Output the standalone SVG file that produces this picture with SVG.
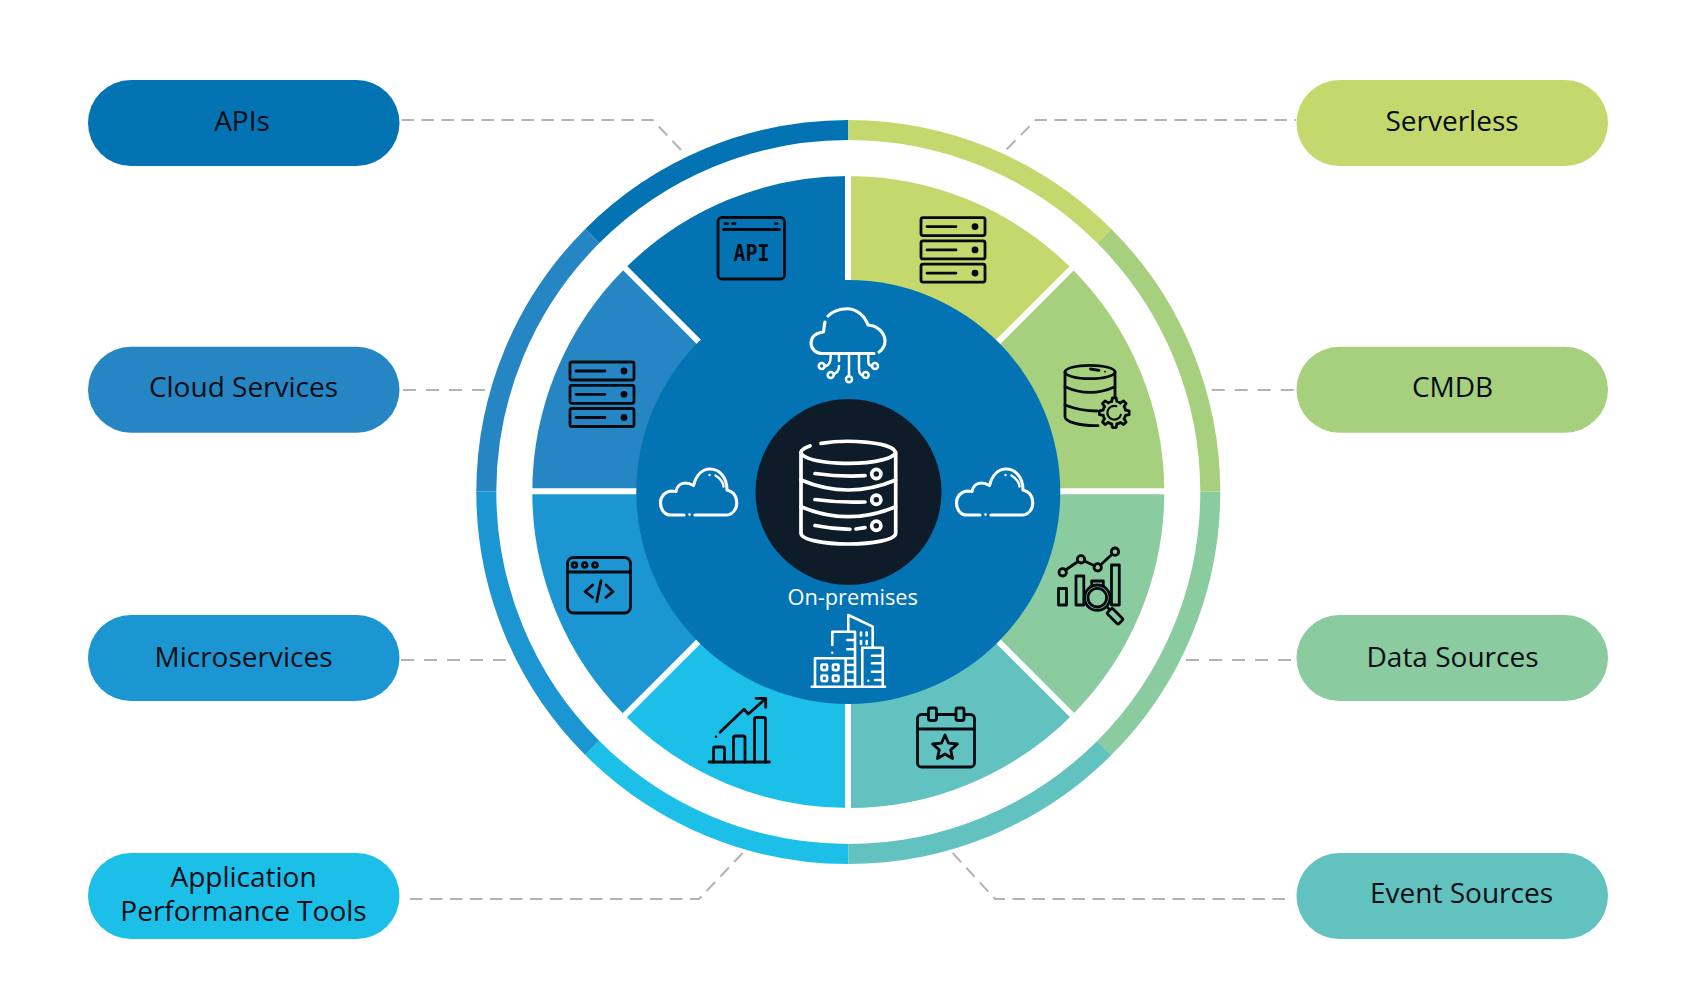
<svg xmlns="http://www.w3.org/2000/svg" xmlns:xlink="http://www.w3.org/1999/xlink" width="1681" height="1000" viewBox="0 0 1681 1000">
<style>
text{font-family:"Open Sans","Liberation Sans",sans-serif}
.lbl{font-size:28px;fill:#060d14;text-anchor:middle}
.conn{fill:none;stroke:#b3b3b3;stroke-width:2;stroke-dasharray:12.5 7.5}
.short{stroke-dasharray:13 10}
.ring{fill:none;stroke-width:20}
.div{stroke:#fff;stroke-width:6}
.k{fill:none;stroke:#050a10;stroke-width:2.8;stroke-linecap:round;stroke-linejoin:round}
.w{fill:none;stroke:#fff;stroke-width:3.1;stroke-linecap:round;stroke-linejoin:round}
.kf{fill:#050a10}
.wf{fill:#fff}
</style>
<defs>
<g id="server" class="k">
<rect x="570" y="362" width="64" height="18" rx="2"/><rect x="570" y="385.3" width="64" height="18" rx="2"/><rect x="570" y="408.5" width="64" height="18" rx="2"/>
<path d="M576 371H605M576 394.3H605M576 417.5H605"/>
<circle cx="624" cy="371" r="3.4" class="kf" stroke="none"/><circle cx="624" cy="394.3" r="3.4" class="kf" stroke="none"/><circle cx="624" cy="417.5" r="3.4" class="kf" stroke="none"/>
</g>
<g id="cloud" class="w">
<path d="M684 515H671C664.5 515 660.5 509.5 660.5 502.7C660.5 496 665.5 491 672 491L676 491.5C677 486 681 483 685 483C688 483 691 484 693.5 485.5C696 475.5 702 469 710 469C720 469 727 478 727 490C733 491.5 736.8 496 736.8 502.5C736.8 509.5 732.5 515 726 515H695"/>
<path d="M715.5 475.5C719.5 478 723 482 723.5 486.5" stroke-width="2.4"/>
<circle cx="709.5" cy="475" r="1.2" class="wf" stroke="none"/><circle cx="689.5" cy="514.5" r="1.3" class="wf" stroke="none"/>
</g>
<path id="tooth" d="M11.2-2.59L14.89-1.83V1.83L11.2 2.59A11.5 11.5 0 0 1 9.75 6.09"/>
</defs>
<rect width="1681" height="1000" fill="#fff"/>

<g id="connectors" class="conn">
<path d="M681 150L652.6 120H401"/>
<path class="short" d="M403 390H485"/>
<path class="short" d="M401 660H507"/>
<path d="M742.7 853L699 899H406"/>
<path d="M1006.7 149.3L1035.7 120H1296"/>
<path class="short" d="M1211.7 390H1296"/>
<path class="short" d="M1186 660H1293"/>
<path d="M952.7 853L995 899H1290"/>
</g>

<g id="ring">
<path class="ring" stroke="#0373b4" d="M848.3 130A362 362 0 0 0 592.3 236"/>
<path class="ring" stroke="#2686c4" d="M592.3 236A362 362 0 0 0 486.3 491.5"/>
<path class="ring" stroke="#1b96d2" d="M486.3 491.5A362 362 0 0 0 592.3 748"/>
<path class="ring" stroke="#1cbfe8" d="M592.3 748A362 362 0 0 0 848.3 854"/>
<path class="ring" stroke="#61c2c0" d="M848.3 854A362 362 0 0 0 1104.3 748"/>
<path class="ring" stroke="#8bcba0" d="M1104.3 748A362 362 0 0 0 1210.3 491.5"/>
<path class="ring" stroke="#a6d07d" d="M1210.3 491.5A362 362 0 0 0 1104.3 236"/>
<path class="ring" stroke="#c4d86e" d="M1104.3 236A362 362 0 0 0 848.3 130"/>
</g>

<g id="wedges">
<path fill="#0373b4" d="M848.3 492V176A316 316 0 0 0 624.9 268.6Z"/>
<path fill="#2686c4" d="M848.3 492L624.9 268.6A316 316 0 0 0 532.3 492Z"/>
<path fill="#1b96d2" d="M848.3 492H532.3A316 316 0 0 0 624.9 715.4Z"/>
<path fill="#1cbfe8" d="M848.3 492L624.9 715.4A316 316 0 0 0 848.3 808Z"/>
<path fill="#61c2c0" d="M848.3 492V808A316 316 0 0 0 1071.7 715.4Z"/>
<path fill="#8bcba0" d="M848.3 492L1071.7 715.4A316 316 0 0 0 1164.3 492Z"/>
<path fill="#a6d07d" d="M848.3 492H1164.3A316 316 0 0 0 1071.7 268.6Z"/>
<path fill="#c4d86e" d="M848.3 492L1071.7 268.6A316 316 0 0 0 848.3 176Z"/>
<path class="div" d="M848 170V814M526 491.3H1170M622 265L1075 718M622 718L1075 265"/>
</g>

<g id="hub">
<circle cx="848.3" cy="492" r="212" fill="#0373b4"/>
<circle cx="848.5" cy="492" r="93" fill="#0e1b28"/>
<g class="w" style="stroke-width:3.7">
<path d="M821 443.35A47 11 0 1 1 810 445.9"/>
<path d="M801 452.3V533.3C801 540 825 544 848.3 544C872 544 895.7 540 895.7 533.3V452.3"/>
<path d="M801 480Q848.3 500 895.7 480M801 506.7Q848.3 526.7 895.7 506.7"/>
<path d="M815 473.5Q840 477 865 475.7M815 499.5Q840 503 865 502M815 525.5Q832 529 850 529.3M856 529L865 527.7"/>
<circle cx="876.3" cy="474" r="4.6"/><circle cx="876.3" cy="499.7" r="4.6"/><circle cx="876.3" cy="525.7" r="4.6"/>
</g>
<text x="852.7" y="604.7" font-size="21.8" fill="#fff" text-anchor="middle">On-premises</text>
</g>

<g id="icon-cloud-circuit" class="w">
<path d="M828 316C833 311 840 308.7 847 308.7C856.5 308.7 864.5 315.5 868 325C877 325.5 885 332.5 885 341C885 345.5 882.5 349.5 879 352"/>
<path d="M825 322C824 325.5 824 329 823.5 332C816 332.5 811 337 811 343C811 349 816 353.5 822 353.5H874"/>
<g style="stroke-width:2.5">
<circle cx="821.7" cy="366" r="3"/><circle cx="830.7" cy="375" r="3"/><circle cx="849" cy="379.3" r="3"/><circle cx="865.7" cy="375" r="3"/><circle cx="875" cy="366" r="3"/>
<path d="M824.7 366Q830.7 366 830.7 356M834 374Q839 372 839 366M839 356V361M849 356V376M859 356V368Q859 375 862.7 375M868.3 356V361Q868.3 366 872 366"/>
</g>
</g>
<use id="icon-cloud-left" xlink:href="#cloud" href="#cloud"/>
<use id="icon-cloud-right" xlink:href="#cloud" href="#cloud" transform="translate(296 0)"/>

<g id="icon-building" class="w" style="stroke-width:2.6">
<path d="M811.7 686.7H885"/>
<path d="M815 686.7V658.3H845.7V686.7"/>
<rect x="821.5" y="664.5" width="5.6" height="5.6" rx="1"/><rect x="832.9" y="664.5" width="5.6" height="5.6" rx="1"/><rect x="821.5" y="675.5" width="5.6" height="5.6" rx="1"/><rect x="832.9" y="675.5" width="5.6" height="5.6" rx="1"/>
<path d="M832.3 645V631.7H855V686.7M855 640H847.3M855 649.3H847.3M855 658.3H847.3M855 665H847.3M855 672H847.3M855 680.5H847.3"/>
<path d="M848.3 631.7V615L872.7 626.7V647"/>
<path d="M861 632.5V635.5M866.7 632.5V635.5M861 641V644M866.7 641V644"/>
<path d="M862.3 686.7V647.7H882.7V686.7M882.7 655.7H872M882.7 663.3H872M882.7 671.7H872M882.7 680H875"/>
<circle cx="832.3" cy="652.7" r="1.2" class="wf" stroke="none"/><circle cx="868.3" cy="680.7" r="1.2" class="wf" stroke="none"/>
</g>

<g id="icon-api" class="k">
<rect x="718" y="217.5" width="66.5" height="61.5" rx="4"/>
<path d="M723.5 229.5H779.5"/>
<path d="M725 223.7H727.5M732.5 223.7H735M775.5 223.7H777"/>
<text x="751.5" y="261.3" text-anchor="middle" font-size="23" font-weight="700" fill="#050a10" stroke="none" style="font-family:'DejaVu Sans Mono',monospace" textLength="36" lengthAdjust="spacingAndGlyphs">API</text>
</g>
<use id="icon-server-left" xlink:href="#server" href="#server"/>
<use id="icon-server-right" xlink:href="#server" href="#server" transform="translate(351 -144.4)"/>

<g id="icon-code" class="k">
<rect x="567.5" y="557.5" width="63" height="55.5" rx="6"/>
<path d="M568 572H630"/>
<circle cx="574.5" cy="565" r="2.4"/><circle cx="584.7" cy="565" r="2.4"/><circle cx="595" cy="565" r="2.4"/>
<path d="M592.7 585L585 591.7L592.7 597.3M606 585L613 591.7L606 597.3M601 580.7L596.7 601.7"/>
</g>

<g id="icon-growth" class="k">
<path d="M709 762H769.5"/>
<path d="M713.5 762V749Q713.5 747 715.5 747H722.5Q724.5 747 724.5 749V762M733.5 762V738Q733.5 736 735.5 736H743Q745 736 745 738V762M754.5 762V719Q754.5 717.5 756.5 717.5H763.5Q765.5 717.5 765.5 719V762"/>
<path d="M720 732.3L744 709.3L748.3 714L765 699.3M756 698.3H765.7V707.3"/>
<circle cx="716" cy="736.7" r="1.2" class="kf" stroke="none"/>
</g>

<g id="icon-calendar" class="k">
<rect x="917.5" y="714.5" width="57" height="52.5" rx="4"/>
<path d="M918 729H974"/>
<rect x="928.5" y="708" width="8" height="12.5" rx="2" fill="#61c2c0"/>
<rect x="956" y="708" width="8" height="12.5" rx="2" fill="#61c2c0"/>
<path d="M945 735L948.5 743.1L957.4 744L950.7 749.9L952.6 758.5L945 754L937.4 758.5L939.3 749.9L932.6 744L941.5 743.1Z"/>
</g>

<g id="icon-data" class="k">
<path d="M1065.5 570L1078 561.5M1084.3 561L1094.5 565.7M1100.5 565L1112 554.2"/>
<circle cx="1062.7" cy="572.3" r="3.7"/><circle cx="1081" cy="559.3" r="3.7"/><circle cx="1097.7" cy="567.3" r="3.7"/><circle cx="1115" cy="551.7" r="3.7"/>
<rect x="1058.5" y="588.5" width="8" height="16.5"/>
<rect x="1076" y="576" width="7.8" height="29"/>
<rect x="1111.5" y="565" width="7.8" height="40"/>
<rect x="1091.7" y="581" width="11.6" height="6" fill="#8bcba0"/>
<circle cx="1097.3" cy="597.7" r="12.7" fill="#8bcba0"/>
<circle cx="1097.3" cy="597.7" r="9.3"/>
<path d="M1107 607L1110 610"/>
<rect x="1107" y="612.5" width="16" height="7.5" rx="1.5" transform="rotate(45 1115 616.3)" fill="#8bcba0"/>
</g>

<g id="icon-db-gear" class="k">
<ellipse cx="1090" cy="372" rx="25" ry="6.7"/>
<path d="M1065 372V416.5C1065 422 1080 425.7 1095 425.7H1098"/>
<path d="M1115 372V397"/>
<path d="M1065 386.7Q1090 398 1115 386.7M1065 405Q1080 411 1097 411"/>
<path d="M1090.5 369L1099 370.3"/>
<circle cx="1105" cy="371.7" r="0.9" class="kf" stroke="none"/>
<g transform="translate(1114.3 412.7)">
<use xlink:href="#tooth" href="#tooth"/>
<use xlink:href="#tooth" href="#tooth" transform="rotate(45)"/>
<use xlink:href="#tooth" href="#tooth" transform="rotate(90)"/>
<use xlink:href="#tooth" href="#tooth" transform="rotate(135)"/>
<use xlink:href="#tooth" href="#tooth" transform="rotate(180)"/>
<use xlink:href="#tooth" href="#tooth" transform="rotate(225)"/>
<use xlink:href="#tooth" href="#tooth" transform="rotate(270)"/>
<use xlink:href="#tooth" href="#tooth" transform="rotate(315)"/>
<path d="M2-6.6A6.9 6.9 0 1 0 6.6 2" style="stroke-width:2.2"/>
</g>
</g>

<g id="node-apis"><rect x="88" y="80" width="311.5" height="86" rx="43" fill="#0373b4"/><text class="lbl" x="242" y="130.5">APIs</text></g>
<g id="node-cloud-services"><rect x="88" y="346.7" width="311.5" height="86" rx="43" fill="#2686c4"/><text class="lbl" x="243.5" y="397">Cloud Services</text></g>
<g id="node-microservices"><rect x="88" y="615" width="311.5" height="86" rx="43" fill="#1b96d2"/><text class="lbl" x="243.5" y="666.7">Microservices</text></g>
<g id="node-apm"><rect x="88" y="853" width="311.5" height="86" rx="43" fill="#1cbfe8"/><text class="lbl" x="243.5" y="887">Application</text><text class="lbl" x="243.5" y="920.7">Performance Tools</text></g>
<g id="node-serverless"><rect x="1296.5" y="80" width="311.5" height="86" rx="43" fill="#c4d86e"/><text class="lbl" x="1452" y="130.5">Serverless</text></g>
<g id="node-cmdb"><rect x="1296.5" y="346.7" width="311.5" height="86" rx="43" fill="#a6d07d"/><text class="lbl" x="1452.5" y="397">CMDB</text></g>
<g id="node-data-sources"><rect x="1296.5" y="615" width="311.5" height="86" rx="43" fill="#8bcba0"/><text class="lbl" x="1452.5" y="666.7">Data Sources</text></g>
<g id="node-event-sources"><rect x="1296.5" y="853" width="311.5" height="86" rx="43" fill="#61c2c0"/><text class="lbl" x="1461.5" y="903">Event Sources</text></g>
</svg>
